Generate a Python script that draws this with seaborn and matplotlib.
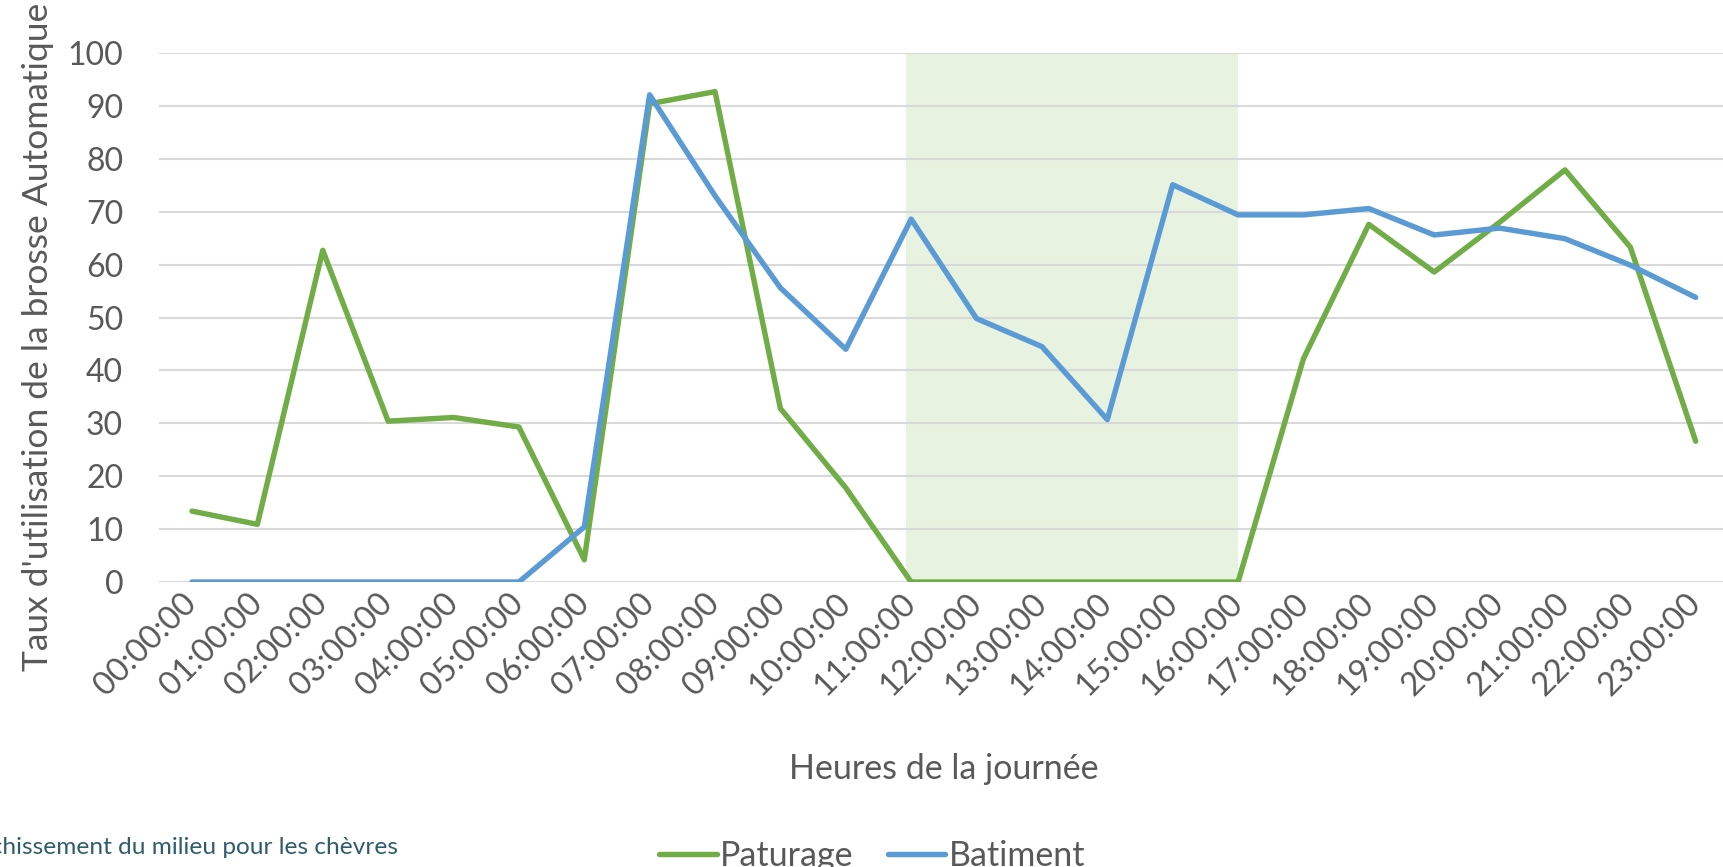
import numpy as np
import pandas as pd
import seaborn as sns
import matplotlib.pyplot as plt
from matplotlib.lines import Line2D

# hours of the day (category axis)
hours = [f"{h:02d}:00:00" for h in range(24)]

# Taux d'utilisation de la brosse automatique
paturage = [13.4, 10.9, 62.7, 30.4, 31.1, 29.3, 4.2, 90.4, 92.7, 32.8, 17.8, 0.0,
            0.0, 0.0, 0.0, 0.0, 0.0, 42.2, 67.6, 58.6, 68.0, 77.9, 63.3, 26.6]
batiment = [0.0, 0.0, 0.0, 0.0, 0.0, 0.0, 10.4, 92.1, 73.0, 55.6, 44.0, 68.6,
            49.8, 44.5, 30.7, 75.1, 69.4, 69.4, 70.6, 65.6, 66.9, 64.9, 59.9, 53.8]

series_names = ["Paturage", "Batiment"]
colors = {"Paturage": "#70AD47", "Batiment": "#5B9BD5"}

# shaded period (hour index)
shade_start, shade_end = 10.92, 16.0

df = pd.DataFrame({
    "pos": list(range(24)) * 2,
    "value": paturage + batiment,
    "serie": ["Paturage"] * 24 + ["Batiment"] * 24,
})

sns.set_theme(style="white")
plt.rcParams['font.family'] = ['Lato', 'DejaVu Sans']

fig = plt.figure(figsize=(17.23, 8.67), dpi=100)
ax = fig.add_axes([159.3 / 1723, (867 - 582) / 867, (1728.4 - 159.3) / 1723, (582 - 53) / 867])

ax.axvspan(shade_start, shade_end, ymin=0, ymax=1, color="#E8F2E1", zorder=0.1, lw=0)

sns.lineplot(data=df, x="pos", y="value", hue="serie", palette=colors, hue_order=series_names,
             linewidth=3.9, ax=ax, legend=False, zorder=3,
             solid_capstyle="round", solid_joinstyle="round")

ax.set_xlim(-0.5, 23.5)
ax.set_ylim(0, 100)
ax.set_yticks(range(0, 101, 10))
ax.set_xticks(range(24))
ax.set_xticklabels(hours, rotation=45, ha="right", va="center", rotation_mode="anchor")
ax.grid(axis="y", color="#D9D9D9", linewidth=1.5)
ax.grid(axis="x", visible=False)
ax.set_axisbelow(True)
for s in ax.spines.values():
    s.set_visible(False)
ax.tick_params(axis="y", length=0, pad=26, labelsize=23, labelcolor="#595959")
ax.tick_params(axis="x", length=0, pad=12, labelsize=23.5, labelcolor="#595959")

ax.set_xlabel("Heures de la journée", fontsize=24.5, color="#595959", labelpad=37)
ax.set_ylabel("Taux d'utilisation de la brosse Automatique", fontsize=25.5, color="#595959",
              labelpad=10, y=0.463)

handles = [Line2D([0], [0], color=colors[n], lw=3.9, solid_capstyle="round") for n in series_names]
fig.legend(handles, series_names, loc="center", bbox_to_anchor=(872 / 1723, 1 - 856 / 867),
           ncol=2, frameon=False, fontsize=24.5, handlelength=1.7, handletextpad=0.1,
           columnspacing=1.0, labelcolor="#595959")

fig.text(398 / 1723, 1 - 847 / 867, "Enrichissement du milieu pour les chèvres",
         ha="right", va="center", fontsize=17.6, color="#2F5D6B")

fig.savefig("out.png", dpi=100)
